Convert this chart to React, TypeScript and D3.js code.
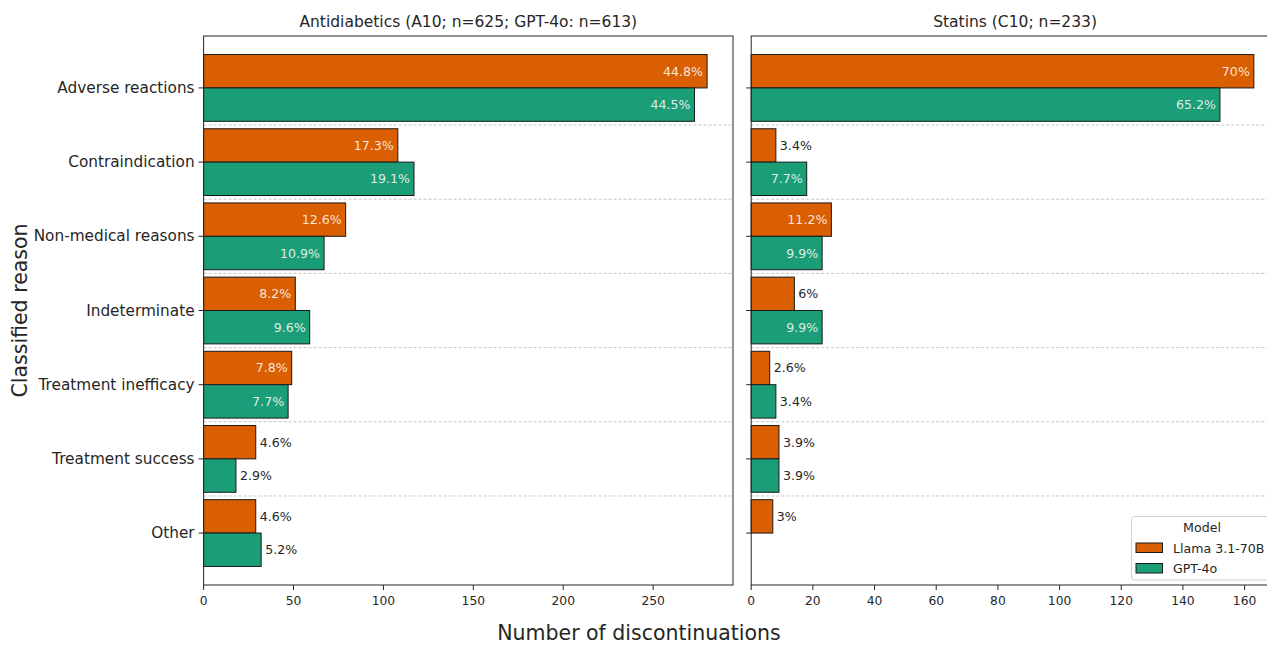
import React from "react";
import * as d3 from "d3";

const categories = [
  "Adverse reactions",
  "Contraindication",
  "Non-medical reasons",
  "Indeterminate",
  "Treatment inefficacy",
  "Treatment success",
  "Other",
];
const models = ["Llama 3.1-70B", "GPT-4o"];
const colors = ["#D95F02", "#1B9E77"];

// Antidiabetics (A10)
const a10Llama = [280, 108, 79, 51, 49, 29, 29];
const a10Gpt = [273, 117, 67, 59, 47, 18, 32];
const a10N = [625, 613];
// Statins (C10)
const c10Llama = [163, 8, 26, 14, 6, 9, 7];
const c10Gpt = [152, 18, 23, 23, 8, 9, 0];
const c10N = [233, 233];

const a10Ticks = [0, 50, 100, 150, 200, 250];
const c10Ticks = [0, 20, 40, 60, 80, 100, 120, 140, 160];

const panelTitles = ["Antidiabetics (A10; n=625; GPT-4o: n=613)", "Statins (C10; n=233)"];

const FONT = "DejaVu Sans, sans-serif";
const TXT = "#262626";

function pctOf(v: number, n: number) {
  return (v / n) * 100;
}
function fmtPct(p: number) {
  let s = p.toFixed(1);
  if (s.endsWith(".0")) s = s.slice(0, -2);
  return s + "%";
}

type PanelProps = {
  left: number;
  right: number;
  xmax: number;
  ticks: number[];
  series: number[][];
  ns: number[];
  title: string;
  showLabels: boolean;
  legend: boolean;
};

const yScale = d3.scaleLinear().domain([-0.7, 6.7]).range([36, 585]);
const BH = 0.45;

function Panel({ left, right, xmax, ticks, series, ns, title, showLabels, legend }: PanelProps) {
  const x = d3.scaleLinear().domain([0, xmax]).range([left, right]);
  const top = yScale(-0.7);
  const bottom = yScale(6.7);
  return (
    <g>
      <text x={(left + right) / 2} y={27} textAnchor="middle" fontSize={15.5} fill={TXT} fontFamily={FONT}>
        {title}
      </text>
      {categories.slice(0, -1).map((_, i) => (
        <line
          key={"sep" + i}
          x1={left}
          x2={right}
          y1={yScale(i + 0.5)}
          y2={yScale(i + 0.5)}
          stroke="#b8b8b8"
          strokeWidth={0.8}
          strokeDasharray="3,2"
        />
      ))}
      {series.map((vals, s) =>
        vals.map((v, i) => {
          if (v <= 0) return null;
          const y0 = s === 0 ? yScale(i - BH) : yScale(i);
          const y1 = s === 0 ? yScale(i) : yScale(i + BH);
          const p = pctOf(v, ns[s]);
          const inside = p >= 7;
          const lbl = fmtPct(p);
          return (
            <g key={`b${s}-${i}`}>
              <rect
                x={x(0)}
                y={y0}
                width={x(v) - x(0)}
                height={y1 - y0}
                fill={colors[s]}
                stroke="#1a1a1a"
                strokeWidth={1}
              />
              <text
                x={inside ? x(v) - 4 : x(v) + 4}
                y={(y0 + y1) / 2}
                dominantBaseline="central"
                textAnchor={inside ? "end" : "start"}
                fontSize={12.6}
                fontFamily={FONT}
                fill={inside ? "#ffffff" : TXT}
                fillOpacity={inside ? 0.85 : 1}
              >
                {lbl}
              </text>
            </g>
          );
        })
      )}
      <rect x={left} y={top} width={right - left} height={bottom - top} fill="none" stroke="#262626" strokeWidth={1} />
      {categories.map((c, i) => (
        <g key={"yt" + i}>
          <line x1={left - 5} x2={left} y1={yScale(i)} y2={yScale(i)} stroke="#262626" strokeWidth={1} />
          {showLabels && (
            <text
              x={left - 9}
              y={yScale(i)}
              dominantBaseline="central"
              textAnchor="end"
              fontSize={15.3}
              fontFamily={FONT}
              fill={TXT}
            >
              {c}
            </text>
          )}
        </g>
      ))}
      {ticks.map((t) => (
        <g key={"xt" + t}>
          <line x1={x(t)} x2={x(t)} y1={bottom} y2={bottom + 5} stroke="#262626" strokeWidth={1} />
          <text x={x(t)} y={bottom + 20} textAnchor="middle" fontSize={12.3} fontFamily={FONT} fill={TXT}>
            {t}
          </text>
        </g>
      ))}
      {legend && (
        <g>
          <rect x={1131.5} y={516.5} width={140} height={63.5} rx={3} fill="#ffffff" fillOpacity={0.85} stroke="#d0d0d0" strokeWidth={1} />
          <text x={1202} y={532} textAnchor="middle" fontSize={12.6} fontFamily={FONT} fill={TXT}>
            Model
          </text>
          {models.map((m, k) => (
            <g key={"lg" + k}>
              <rect x={1136} y={543 + k * 20.5} width={26.5} height={9.5} fill={colors[k]} stroke="#1a1a1a" strokeWidth={1} />
              <text x={1173} y={548 + k * 20.5} dominantBaseline="central" fontSize={12.6} fontFamily={FONT} fill={TXT}>
                {m}
              </text>
            </g>
          ))}
        </g>
      )}
    </g>
  );
}

export default function App() {
  return (
    <svg
      width={1267}
      height={645}
      style={{ position: "absolute", left: 0, top: 0, background: "#ffffff" }}
      fontFamily={FONT}
    >
      <rect x={0} y={0} width={1267} height={645} fill="#ffffff" />
      <Panel
        left={203.6}
        right={733}
        xmax={294.4}
        ticks={a10Ticks}
        series={[a10Llama, a10Gpt]}
        ns={a10N}
        title={panelTitles[0]}
        showLabels={true}
        legend={false}
      />
      <Panel
        left={751.2}
        right={1279}
        xmax={171.15}
        ticks={c10Ticks}
        series={[c10Llama, c10Gpt]}
        ns={c10N}
        title={panelTitles[1]}
        showLabels={false}
        legend={true}
      />
      <text
        transform={`translate(20, ${yScale(3)}) rotate(-90)`}
        textAnchor="middle"
        dominantBaseline="central"
        fontSize={20.5}
        fontFamily={FONT}
        fill={TXT}
      >
        Classified reason
      </text>
      <text x={639} y={640} textAnchor="middle" fontSize={20.5} fontFamily={FONT} fill={TXT}>
        Number of discontinuations
      </text>
    </svg>
  );
}
